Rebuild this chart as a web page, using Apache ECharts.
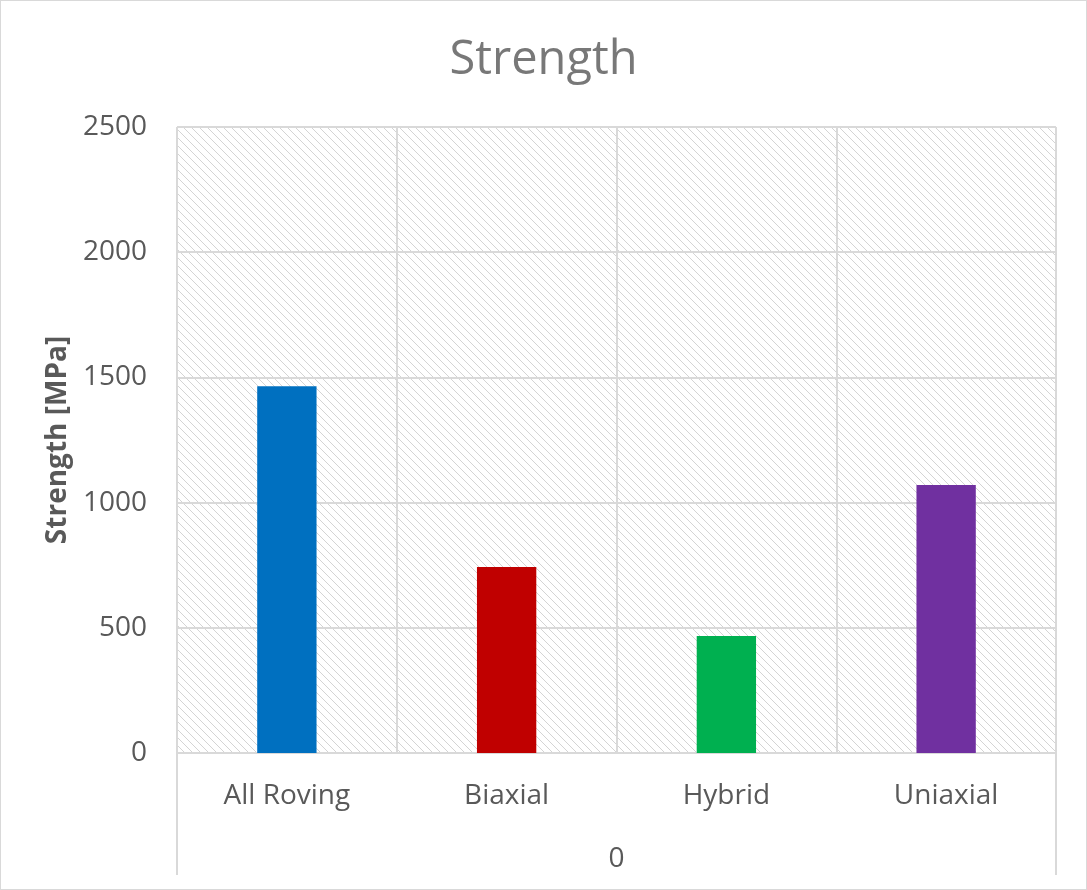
<!DOCTYPE html>
<html>
<head>
<meta charset="utf-8">
<script src="https://cdn.jsdelivr.net/npm/echarts@6/dist/echarts.min.js"></script>
<style>
  html, body { margin: 0; padding: 0; background: #fff; }
  #chart { width: 1087px; height: 890px; box-sizing: border-box; border: 1px solid #d9d9d9; }
</style>
</head>
<body>
<div id="chart"></div>
<script>
// Data
const categories = ['All Roving', 'Biaxial', 'Hybrid', 'Uniaxial'];
const strengthValues = [1465, 743, 467, 1070];
const barColors = ['#0070C0', '#C00000', '#00B050', '#7030A0'];
const groupLabels = ['0'];
const yTicks = { min: 0, max: 2500, interval: 500 };

// Light downward-diagonal hatch used as the plot background
function makeHatch() {
  const size = 8;
  const c = document.createElement('canvas');
  c.width = size; c.height = size;
  const ctx = c.getContext('2d');
  ctx.fillStyle = '#ffffff';
  ctx.fillRect(0, 0, size, size);
  ctx.fillStyle = '#d4d4d4';
  for (let y = 0; y < size; y++) {
    for (let x = 0; x < size; x++) {
      const d = ((x - y) % size + size) % size;
      if ((d === 0 || d === 1) && ((x + y) % 2 === 0 || d === 0)) ctx.fillRect(x, y, 1, 1);
    }
  }
  return c;
}

const font = '"Open Sans", "Noto Sans", sans-serif';
const txt = '#595959';
const gridLine = '#d9d9d9';

const chart = echarts.init(document.getElementById('chart'), null, { renderer: 'canvas' });
chart.setOption({
  animation: false,
  title: {
    text: 'Strength',
    left: 'center',
    top: 31,
    textStyle: { fontFamily: font, fontSize: 47, fontWeight: 'normal', color: '#787878' }
  },
  grid: {
    left: 176, right: 30, top: 126, bottom: 136,
    show: true,
    borderWidth: 0,
    backgroundColor: { image: makeHatch(), repeat: 'repeat' }
  },
  xAxis: [{
    type: 'category',
    data: categories,
    axisLine: { show: true, lineStyle: { color: gridLine, width: 2 } },
    axisTick: { show: false },
    splitLine: { show: true, lineStyle: { color: gridLine, width: 2 } },
    axisLabel: { fontFamily: font, fontSize: 28, color: txt, margin: 29 }
  }, {
    type: 'category',
    data: groupLabels,
    position: 'bottom',
    offset: 122,
    axisLine: { show: false },
    axisTick: { show: true, inside: true, length: 122, lineStyle: { color: gridLine, width: 2 } },
    axisLabel: { inside: true, fontFamily: font, fontSize: 28, color: txt, margin: 2 }
  }],
  yAxis: {
    type: 'value',
    min: yTicks.min, max: yTicks.max, interval: yTicks.interval,
    name: 'Strength [MPa]',
    nameLocation: 'middle',
    nameGap: 104,
    nameTextStyle: { fontFamily: font, fontSize: 28, fontWeight: 'bold', color: txt },
    axisLine: { show: false },
    axisTick: { show: false },
    splitLine: { show: true, lineStyle: { color: gridLine, width: 2 } },
    axisLabel: { fontFamily: font, fontSize: 28, color: txt, margin: 30, formatter: v => String(v) }
  },
  series: [{
    type: 'bar',
    xAxisIndex: 0,
    barWidth: '27%',
    data: strengthValues.map((v, i) => ({ value: v, itemStyle: { color: barColors[i] } }))
  }]
});
</script>
</body>
</html>
